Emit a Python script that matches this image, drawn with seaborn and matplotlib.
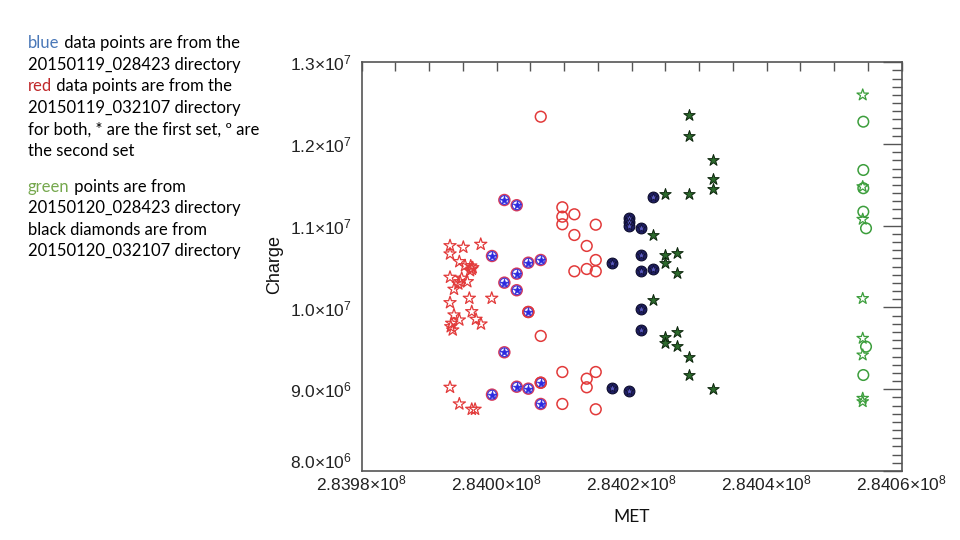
import matplotlib
matplotlib.use('Agg')
import matplotlib.pyplot as plt
import seaborn as sns
from matplotlib.ticker import MultipleLocator, FuncFormatter

sns.set_style('white')
plt.rcParams.update({
    'font.family': ['Liberation Sans', 'DejaVu Sans'],
    'mathtext.fontset': 'custom',
    'mathtext.rm': 'Liberation Sans',
    'mathtext.it': 'Liberation Sans:italic',
    'mathtext.bf': 'Liberation Sans:bold',
})

# --- data (MET, Charge) ---
red_star_met = [283993080, 283995050, 283997630, 283993080, 283994460, 283995300, 283996150,
                283996300, 283996040, 283996440, 283993080, 283994810, 283994560, 283994310,
                283995640, 283993670, 283995940, 283999260, 283993080, 283993670, 283994460,
                283996300, 283996930, 283997670, 283993330, 283993190, 283993480, 283993080,
                283994460, 283996300, 283996790]
red_star_charge = [10756000, 10737000, 10773000, 10655000, 10561000, 10512000, 10508000,
                   10468000, 10451000, 10487000, 10370000, 10358000, 10316000, 10288000,
                   10316000, 10223000, 10113000, 10113000, 10059000, 9909000, 9847000,
                   9949000, 9856000, 9798000, 9807000, 9765000, 9725000, 9024000,
                   8820000, 8755000, 8755000]

red_circ_met = [284006520, 284009720, 284009720, 284009720, 284011500, 284014670, 284011500,
                284013330, 284014670, 284011500, 284013330, 284014670, 284004680, 284006520,
                284009720, 284014670, 284013330, 284013330, 284006520, 284009720, 284014670]
red_circ_charge = [12334000, 11226000, 11111000, 11018000, 11140000, 11013000, 10887000,
                   10753000, 10581000, 10443000, 10471000, 10443000, 9945000, 9652000,
                   9211000, 9211000, 9129000, 9024000, 9080000, 8820000, 8755000]

blue_met = [284001130, 284002960, 283999300, 284004680, 284006520, 284002960, 284001130,
            284002960, 284004680, 284001130, 283999300, 284002960, 284004680, 284006520,
            284006520]
blue_charge = [11315000, 11251000, 10630000, 10548000, 10581000, 10414000, 10304000,
               10211000, 9945000, 9452000, 8934000, 9031000, 9007000, 9080000, 8820000]

black_met = [284023110, 284019600, 284019600, 284019600, 284021330, 284021330, 284017130,
             284021330, 284023110, 284021330, 284021330, 284017130, 284019600]
black_charge = [11348000, 11092000, 11043000, 10997000, 10977000, 10643000, 10541000,
                10451000, 10471000, 9978000, 9725000, 9012000, 8982000]

dkgreen_met = [284028490, 284028490, 284032090, 284032090, 284032090, 284024930, 284028490,
               284023110, 284024930, 284024930, 284026670, 284026670, 284023110, 284024930,
               284024930, 284026670, 284026670, 284028490, 284028490, 284032090]
dkgreen_charge = [12355000, 12098000, 11805000, 11569000, 11454000, 11389000, 11389000,
                  10887000, 10643000, 10541000, 10663000, 10419000, 10092000, 9643000,
                  9570000, 9697000, 9529000, 9391000, 9174000, 8999000]

green_star_met = [284054220, 284054220, 284054220, 284054220, 284054220, 284054220,
                  284054220, 284054220]
green_star_charge = [12600000, 11478000, 11079000, 10110000, 9623000, 9419000, 8889000, 8848000]

green_circ_met = [284054310, 284054310, 284054310, 284054310, 284054710, 284054710, 284054310]
green_circ_charge = [12273000, 11682000, 11459000, 11172000, 10969000, 9521000, 9174000]

RED = '#e23a3a'
BLUE = '#2a2ae0'
GREEN = '#3c9e3c'

fig = plt.figure(figsize=(9.6, 5.4), dpi=100)
ax = fig.add_axes([0.3768, 0.1278, 0.5625, 0.7569])

# red first set (stars)
sns.scatterplot(x=red_star_met, y=red_star_charge, marker='*', s=85, facecolor='none',
                edgecolor=RED, linewidth=0.9, ax=ax)
# blue points: circle + star
sns.scatterplot(x=blue_met, y=blue_charge, marker='o', s=62, facecolor='none',
                edgecolor='#d83a5a', linewidth=1.1, ax=ax)
sns.scatterplot(x=blue_met, y=blue_charge, marker='o', s=40, facecolor='none',
                edgecolor='#4a3ad0', linewidth=0.9, ax=ax)
sns.scatterplot(x=blue_met, y=blue_charge, marker='*', s=42, color=BLUE,
                edgecolor=BLUE, linewidth=0.4, ax=ax)
# red second set (circles)
sns.scatterplot(x=red_circ_met, y=red_circ_charge, marker='o', s=60, facecolor='none',
                edgecolor=RED, linewidth=1.1, ax=ax)
# black diamonds set
sns.scatterplot(x=black_met, y=black_charge, marker='o', s=60, color='#1e1e62',
                edgecolor='#0c0c2c', linewidth=0.8, ax=ax)
sns.scatterplot(x=black_met, y=black_charge, marker='*', s=38, color='#5a5ac0',
                edgecolor='#0c0c2c', linewidth=0.5, ax=ax)
# dark green stars
sns.scatterplot(x=dkgreen_met, y=dkgreen_charge, marker='*', s=75, color='#2c6a2c',
                edgecolor='#0c240c', linewidth=0.7, ax=ax)
# green points at right
sns.scatterplot(x=green_star_met, y=green_star_charge, marker='*', s=75, facecolor='none',
                edgecolor=GREEN, linewidth=0.9, ax=ax)
sns.scatterplot(x=green_circ_met, y=green_circ_charge, marker='o', s=58, facecolor='none',
                edgecolor=GREEN, linewidth=1.1, ax=ax)

ax.set_xlim(283980000, 284060000)
ax.set_ylim(8.0e6, 1.3e7)
ax.xaxis.set_major_locator(MultipleLocator(20000))
ax.xaxis.set_minor_locator(MultipleLocator(5000))
ax.yaxis.set_major_locator(MultipleLocator(1e6))
ax.yaxis.set_minor_locator(MultipleLocator(1e5))


def fmt_x(v, pos):
    return '%.4f×10$^{8}$' % (v / 1e8)


def fmt_y(v, pos):
    if v >= 1e7 - 1:
        return '%.1f×10$^{7}$' % (v / 1e7)
    return '%.1f×10$^{6}$' % (v / 1e6)


ax.xaxis.set_major_formatter(FuncFormatter(fmt_x))
ax.yaxis.set_major_formatter(FuncFormatter(fmt_y))

frame = '#555555'
for sp in ax.spines.values():
    sp.set_color(frame)
    sp.set_linewidth(1.2)
ax.tick_params(axis='both', which='both', direction='in', top=True, right=True,
               color=frame, width=1.0, labelsize=12.5, labelcolor='#222222')
ax.tick_params(axis='x', which='both', length=6.5, pad=2)
ax.tick_params(axis='y', which='major', length=13.5, pad=7)
ax.tick_params(axis='y', which='minor', length=7)

# lift the lowest y label clear of the x labels, as in the original
fig.canvas.draw()
for tick in ax.yaxis.get_major_ticks():
    if abs(tick.get_loc() - 8.0e6) < 1:
        tick.label1.set_verticalalignment('bottom')

ax.set_ylabel('Charge', fontsize=13, color='#111111')
ax.yaxis.set_label_coords(-0.146, 0.506)
ax.set_xlabel('MET', fontsize=12.5, family=['Lato', 'DejaVu Sans'], color='#111111')
ax.xaxis.set_label_coords(0.5, -0.093)

# --- notes on the left ---
note_font = ['Lato', 'DejaVu Sans']
fs = 12
x0 = 28 / 960
lines = [
    ('blue', '#4a78b8', ' data points are from the', 48.3),
    ('', None, '20150119_028423 directory', 69.8),
    ('red', '#c0282a', ' data points are from the', 91.2),
    ('', None, '20150119_032107 directory', 112.7),
    ('', None, 'for both, * are the first set, º are', 134.2),
    ('', None, 'the second set', 155.6),
    ('green', '#76a84e', ' points are from', 191.7),
    ('', None, '20150120_028423 directory', 213.2),
    ('', None, 'black diamonds are from', 234.6),
    ('', None, '20150120_032107 directory', 256.0),
]
for word, col, rest, yb in lines:
    y = 1 - yb / 540
    if word:
        t = fig.text(x0, y, word, color=col, family=note_font, fontsize=fs, va='baseline')
        ax.annotate(rest, xy=(1, 0), xycoords=t, va='bottom', ha='left', color='black',
                    family=note_font, fontsize=fs, annotation_clip=False)
    else:
        fig.text(x0, y, rest, color='black', family=note_font, fontsize=fs, va='baseline')

fig.savefig('out.png', dpi=100)
